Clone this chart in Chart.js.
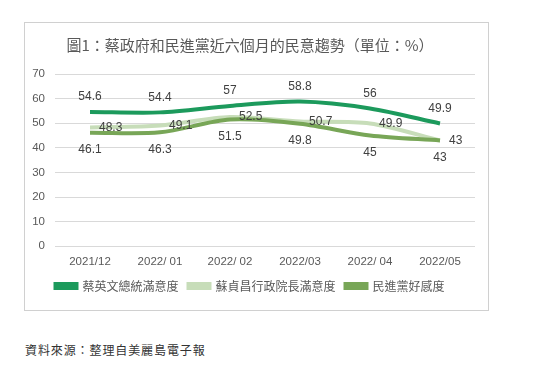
<!DOCTYPE html>
<html>
<head>
<meta charset="utf-8">
<script src="https://cdn.jsdelivr.net/npm/chart.js@4/dist/chart.umd.min.js"></script>
<style>
  body { margin: 0; background: #fff; width: 541px; height: 374px; position: relative; font-family: "Liberation Sans", "Noto Sans CJK TC", sans-serif; }
  #box { position: absolute; left: 24px; top: 22px; width: 463px; height: 287px; border: 1px solid #d0d0d0; }
  #source { position: absolute; left: 25px; top: 341px; font-size: 12px; color: #333; font-family: "Noto Sans CJK TC", sans-serif; letter-spacing: 0.9px; }
</style>
</head>
<body>
<div id="box"><canvas id="chart" width="463" height="287"></canvas></div>
<div id="source">資料來源：整理自美麗島電子報</div>
<script>
const months = ['2021/12', '2022/ 01', '2022/ 02', '2022/03', '2022/ 04', '2022/05'];
const seriesNames = ['蔡英文總統滿意度', '蘇貞昌行政院長滿意度', '民進黨好感度'];
const tsai = [54.6, 54.4, 57, 58.8, 56, 49.9];
const su = [48.3, 49.1, 52.5, 50.7, 49.9, 43];
const dpp = [46.1, 46.3, 51.5, 49.8, 45, 43];
const yTicks = [0, 10, 20, 30, 40, 50, 60, 70];

const colors = ['#1c9a5c', '#c7ddb9', '#78a657'];
// where each series puts its value labels
const labelPos = [
    { dx: 0, dy: -15, align: 'center' },
    { dx: 9, dy: 0, align: 'left' },
    { dx: 0, dy: 17, align: 'center' }
];

const valueLabels = {
    id: 'valueLabels',
    afterDatasetsDraw(chart) {
        const ctx = chart.ctx;
        ctx.save();
        ctx.font = '12px "Liberation Sans", Arial, sans-serif';
        ctx.fillStyle = '#404040';
        ctx.textBaseline = 'middle';
        chart.data.datasets.forEach((ds, i) => {
            const meta = chart.getDatasetMeta(i);
            const pos = labelPos[i];
            ctx.textAlign = pos.align;
            meta.data.forEach((pt, j) => {
                ctx.fillText(String(ds.data[j]), pt.x + pos.dx, pt.y + pos.dy);
            });
        });
        ctx.restore();
    }
};

const ctx = document.getElementById('chart').getContext('2d');
new Chart(ctx, {
    type: 'line',
    data: {
        labels: months,
        datasets: [
            { label: seriesNames[0], data: tsai, borderColor: colors[0], backgroundColor: colors[0], order: 0 },
            { label: seriesNames[1], data: su, borderColor: colors[1], backgroundColor: colors[1], order: 2 },
            { label: seriesNames[2], data: dpp, borderColor: colors[2], backgroundColor: colors[2], order: 1 }
        ]
    },
    options: {
        responsive: false,
        animation: false,
        layout: { padding: { left: 0, right: 13, top: 10, bottom: 8 } },
        elements: {
            line: { borderWidth: 4, tension: 0.3, fill: false },
            point: { radius: 0 }
        },
        plugins: {
            title: {
                display: true,
                text: '圖1：蔡政府和民進黨近六個月的民意趨勢（單位：%）',
                color: '#595959',
                font: { family: '"Noto Sans CJK TC", sans-serif', size: 15, weight: 'normal' },
                padding: { top: 3, bottom: 20 }
            },
            legend: {
                position: 'bottom',
                labels: {
                    boxWidth: 21,
                    boxHeight: 4,
                    padding: 10,
                    color: '#595959',
                    font: { family: '"Noto Sans CJK TC", sans-serif', size: 12 },
                    sort: (a, b) => a.datasetIndex - b.datasetIndex
                }
            },
            tooltip: { enabled: false }
        },
        scales: {
            x: {
                offset: true,
                grid: { display: false },
                border: { display: false },
                ticks: { color: '#595959', font: { size: 11.5 }, padding: 1 }
            },
            y: {
                min: 0,
                max: 70,
                afterBuildTicks: s => { s.ticks = yTicks.map(v => ({ value: v })); },
                afterFit: s => { s.width = 30; },
                grid: { color: '#d9d9d9', drawTicks: false },
                border: { display: false },
                ticks: { color: '#595959', font: { size: 11.5 }, padding: 10 }
            }
        }
    },
    plugins: [valueLabels]
});
</script>
</body>
</html>
